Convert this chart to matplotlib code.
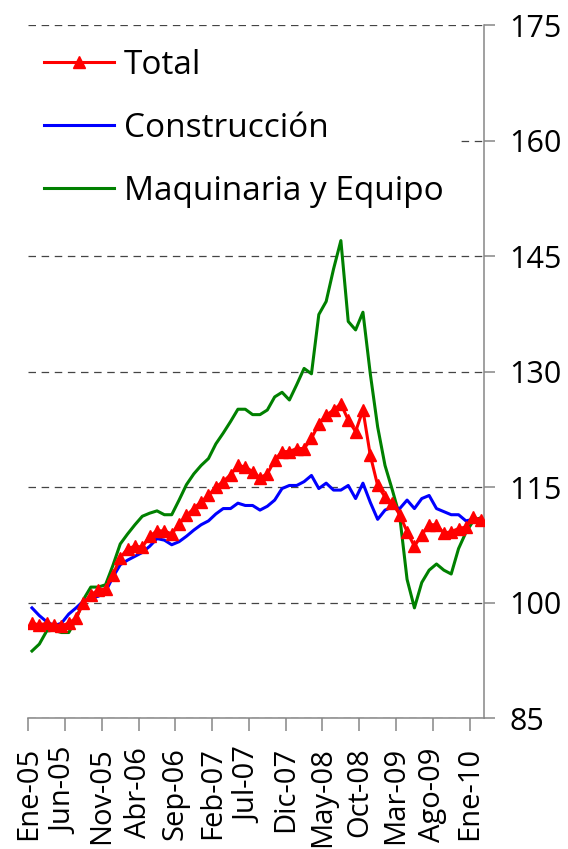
import numpy as np
import matplotlib
matplotlib.use("Agg")
import matplotlib.pyplot as plt
from matplotlib.font_manager import FontProperties

# ---- data (monthly, Ene-05 .. Feb-10) ----
months = ["Ene", "Feb", "Mar", "Abr", "May", "Jun", "Jul", "Ago", "Sep", "Oct", "Nov", "Dic"]
categories = [f"{months[i % 12]}-{5 + i // 12:02d}" for i in range(62)]

total = [97.3, 97.1, 97.3, 97.1, 97.0, 97.3, 98.0, 99.9, 101.0, 101.6,
         101.8, 103.6, 105.8, 107.0, 107.3, 107.2, 108.6, 109.3, 109.3, 108.9,
         110.2, 111.3, 112.2, 113.1, 113.9, 115.0, 115.7, 116.6, 117.8, 117.6,
         117.0, 116.2, 116.7, 118.5, 119.6, 119.6, 120.0, 120.0, 121.3, 123.2,
         124.3, 125.0, 125.8, 123.7, 122.2, 125.0, 119.1, 115.2, 113.7, 112.9,
         111.4, 109.2, 107.3, 108.8, 110.1, 110.1, 109.0, 109.2, 109.6, 109.8,
         111.1, 110.7]

construccion = [99.3, 98.3, 97.5, 97.0, 97.3, 98.5, 99.3, 100.2, 100.6, 100.8,
                101.4, 103.3, 104.9, 105.5, 106.0, 106.5, 107.3, 108.3, 108.1, 107.5,
                107.9, 108.6, 109.4, 110.1, 110.6, 111.5, 112.2, 112.2, 112.9, 112.6,
                112.6, 112.0, 112.5, 113.3, 114.8, 115.2, 115.2, 115.7, 116.5, 114.8,
                115.5, 114.6, 114.6, 115.2, 113.5, 115.5, 113.0, 110.8, 112.0, 112.4,
                112.2, 113.3, 112.2, 113.5, 113.9, 112.2, 111.8, 111.4, 111.4, 110.6,
                110.8, 110.8]

maquinaria = [93.7, 94.6, 96.3, 96.4, 96.1, 96.1, 97.8, 100.4, 102.0, 102.0,
              102.3, 104.8, 107.6, 108.9, 110.1, 111.2, 111.6, 111.9, 111.4, 111.4,
              113.3, 115.3, 116.7, 117.8, 118.7, 120.6, 122.0, 123.5, 125.1, 125.1,
              124.4, 124.4, 125.0, 126.7, 127.3, 126.3, 128.3, 130.4, 129.7, 137.4,
              139.1, 143.3, 147.0, 136.5, 135.4, 137.7, 129.7, 122.8, 117.8, 114.6,
              111.2, 103.0, 99.3, 102.6, 104.2, 105.0, 104.2, 103.7, 107.0, 109.1,
              110.6, 111.0]

series_names = ["Total", "Construcción", "Maquinaria y Equipo"]
y_ticks = [85, 100, 115, 130, 145, 160, 175]

# ---- figure ----
W, H = 568, 849
fig = plt.figure(figsize=(W / 100, H / 100), dpi=100)
left_px, right_px, top_px, bottom_px = 28.3, 484.3, 25, 718
ax = fig.add_axes([left_px / W, 1 - bottom_px / H,
                   (right_px - left_px) / W, (bottom_px - top_px) / H])

x = np.arange(len(categories))
ax.plot(x, maquinaria, color="#008000", lw=2.2, zorder=3, label=series_names[2])
ax.plot(x, construccion, color="#0000FF", lw=2.2, zorder=4, label=series_names[1])
ax.plot(x, total, color="#FF0000", lw=2.2, marker="^", ms=9, zorder=5,
        label=series_names[0])

ax.set_xlim(-0.5, len(categories) - 0.5)
ax.set_ylim(85, 175)

tick_idx = list(range(0, len(categories), 5))
ax.set_xticks([i - 0.5 for i in tick_idx])
xfont = FontProperties(family="Open Sans", size=21)
ax.set_xticklabels([categories[i] for i in tick_idx], rotation=90,
                   fontproperties=xfont, va="top", ha="center")

ax.yaxis.tick_right()
ax.set_yticks(y_ticks)
yfont = FontProperties(family="Open Sans", size=22)
ax.set_yticklabels([str(v) for v in y_ticks], fontproperties=yfont)

axis_col = "#868686"
for s in ["left", "top"]:
    ax.spines[s].set_visible(False)
for s in ["right", "bottom"]:
    ax.spines[s].set_color(axis_col)
    ax.spines[s].set_linewidth(1.1)

ax.tick_params(axis="x", direction="out", length=9, width=1.1, color=axis_col,
               pad=12, labelcolor="black")
ax.tick_params(axis="y", direction="out", length=8, width=1.1, color=axis_col,
               pad=10, labelcolor="black", right=True, left=False)

ax.yaxis.grid(True, color="#444444", lw=0.9, linestyle=(0, (6, 4.5)))
ax.set_axisbelow(True)

lfont = FontProperties(family="Open Sans", size=24)
handles, labels = ax.get_legend_handles_labels()
order = [2, 1, 0]
leg = ax.legend([handles[i] for i in order], [labels[i] for i in order],
                loc="upper left", bbox_to_anchor=(27 / W, 1 - 32 / H),
                bbox_transform=fig.transFigure, prop=lfont,
                frameon=True, framealpha=1, fancybox=False,
                handlelength=2.1, handletextpad=0.3, labelspacing=0.9,
                borderpad=0.5, borderaxespad=0, numpoints=1)
leg.get_frame().set_edgecolor("none")
leg.get_frame().set_facecolor("white")
leg.set_zorder(10)

fig.savefig("out.png", dpi=100)
